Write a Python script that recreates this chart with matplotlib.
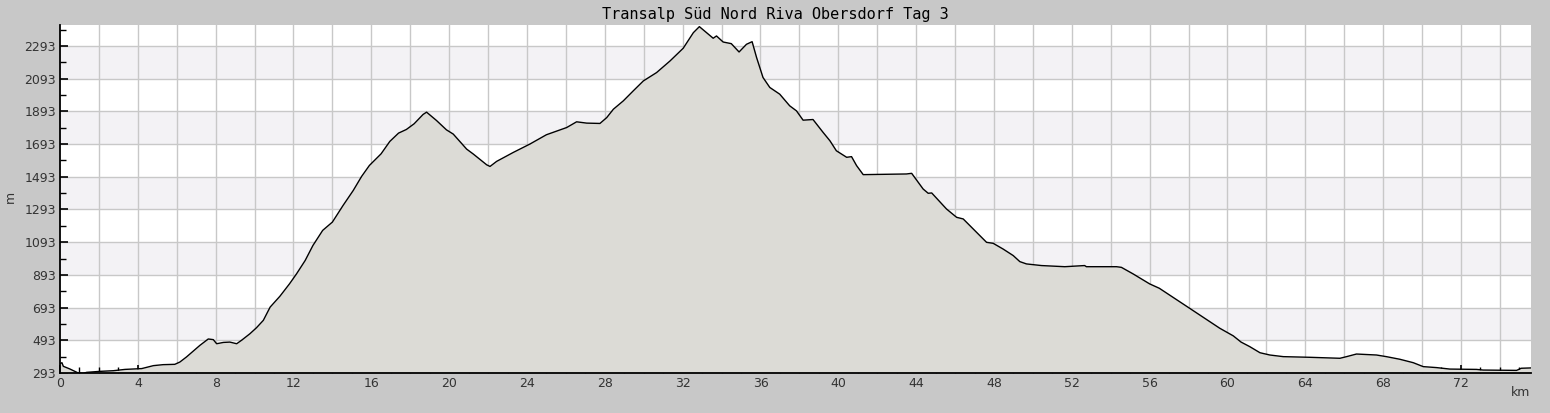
import matplotlib
matplotlib.use("Agg")
import matplotlib.pyplot as plt
import numpy as np

# ── Data ───────────────────────────────────────────────────────────────────────

TITLE = "Transalp Süd Nord Riva Obersdorf Tag 3"

dist_km = [
    0.0, 0.1, 0.17, 0.5, 0.94, 1.2, 1.37, 2.05, 2.74, 3.34, 4.2, 4.8, 5.3, 5.9,
    6.16, 6.5, 7.19, 7.62, 7.88, 8.05, 8.4, 8.73, 9.08, 9.33, 9.76, 10.1, 10.45,
    10.8, 11.3, 11.8, 12.16, 12.6, 13.0, 13.5, 14.0, 14.55, 15.07, 15.5, 15.9,
    16.5, 16.95, 17.4, 17.8, 18.2, 18.66, 18.84, 19.35, 19.86, 20.21, 20.9,
    21.24, 21.93, 22.1, 22.44, 23.3, 24.15, 25.0, 26.04, 26.55, 27.07, 27.75,
    28.1, 28.44, 28.95, 29.46, 29.98, 30.66, 31.35, 32.03, 32.55, 32.86, 33.23,
    33.57, 33.74, 34.08, 34.5, 34.9, 35.28, 35.57, 35.8, 36.13, 36.48, 36.99,
    37.5, 37.85, 38.19, 38.7, 39.22, 39.57, 39.9, 40.43, 40.68, 40.94, 41.28,
    43.5, 43.77, 44.36, 44.62, 44.8, 45.56, 46.08, 46.42, 46.93, 47.62, 47.96,
    48.47, 48.99, 49.33, 49.67, 50.44, 51.64, 52.66, 52.75, 54.3, 54.55, 55.15,
    56.0, 56.5, 57.0, 57.9, 58.75, 59.6, 60.3, 60.7, 61.15, 61.67, 62.18, 62.87,
    64.24, 65.78, 66.12, 66.63, 67.66, 68.17, 68.86, 69.55, 70.06, 70.75, 71.43,
    72.8, 73.14, 74.86, 75.1, 75.6,
]

elev_m = [
    350, 356, 334, 318, 293, 291, 297, 303, 307, 315, 320, 338, 344, 346,
    360, 391, 462, 501, 497, 472, 480, 482, 472, 493, 533, 570, 615,
    696, 762, 839, 900, 981, 1073, 1165, 1216, 1318, 1409, 1495, 1562,
    1633, 1709, 1760, 1782, 1817, 1874, 1888, 1837, 1780, 1754, 1662,
    1632, 1566, 1556, 1587, 1642, 1693, 1750, 1794, 1829, 1821, 1819,
    1855, 1906, 1957, 2018, 2079, 2130, 2201, 2279, 2374, 2411, 2374,
    2340, 2354, 2317, 2307, 2256, 2303, 2319, 2222, 2100, 2039, 1998,
    1927, 1896, 1839, 1843, 1764, 1713, 1652, 1612, 1616, 1561, 1506,
    1510, 1514, 1418, 1392, 1394, 1296, 1245, 1235, 1174, 1092, 1086,
    1051, 1011, 974, 960, 950, 943, 950, 943, 943, 939, 899,
    838, 811, 772, 701, 634, 567, 520, 482, 454, 417, 403, 393,
    389, 383, 393, 409, 403, 393, 377, 356, 332, 326, 317,
    315, 311, 309, 322, 324,
]

y_ticks = [293, 493, 693, 893, 1093, 1293, 1493, 1693, 1893, 2093, 2293]
x_ticks = [0, 4, 8, 12, 16, 20, 24, 28, 32, 36, 40, 44, 48, 52, 56, 60, 64, 68, 72]

# ── Style ──────────────────────────────────────────────────────────────────────

BG = "#c8c8c8"
BAND = "#f3f2f5"
FILL = "#dcdbd6"
GRID = "#c8c8c8"

fig = plt.figure(figsize=(15.5, 4.13), dpi=100, facecolor=BG)
ax = fig.add_axes([60 / 1550, 40 / 413, 1471 / 1550, 348 / 413])
ax.set_facecolor("white")

x_max = 75.6
y_min, y_max = 293, 2421
ax.set_xlim(0, x_max)
ax.set_ylim(y_min, y_max)

# alternating shaded bands between every other pair of major y ticks
for lo, hi in zip(y_ticks[1::2], y_ticks[2::2]):
    ax.axhspan(lo, hi, color=BAND, zorder=0, lw=0)

# grid: vertical every 2 km, horizontal at major y ticks
for gx in np.arange(2, x_max, 2):
    ax.axvline(gx, color=GRID, lw=1.0, zorder=1)
for gy in y_ticks[1:]:
    ax.axhline(gy, color=GRID, lw=1.0, zorder=1)

ax.fill_between(dist_km, elev_m, y_min, color=FILL, lw=0, zorder=2)
ax.plot(dist_km, elev_m, color="black", lw=1.0, zorder=3)

ax.set_xticks(x_ticks)
ax.set_xticks(np.arange(0, x_max, 1), minor=True)
ax.set_yticks(y_ticks)
ax.set_yticks(np.arange(393, 2421, 200), minor=True)
ax.tick_params(axis="both", which="major", direction="in", length=6,
               width=1.2, labelsize=9, labelcolor="#333333", pad=3)
ax.tick_params(axis="both", which="minor", direction="in", length=4, width=1.0)

for side in ("top", "right"):
    ax.spines[side].set_visible(False)
for side in ("left", "bottom"):
    ax.spines[side].set_linewidth(1.3)
    ax.spines[side].set_zorder(4)

fig.text(10 / 1550, 1 - 197 / 413, "m", rotation=90, ha="center", va="center",
         fontsize=9, color="#333333")
fig.text(1521 / 1550, 1 - 392 / 413, "km", ha="center", va="center",
         fontsize=9, color="#333333")
fig.text(775 / 1550, 1 - 14 / 413, TITLE, ha="center", va="center",
         fontsize=11, family="DejaVu Sans Mono", color="black")

fig.savefig("out.png", dpi=100, facecolor=BG)
